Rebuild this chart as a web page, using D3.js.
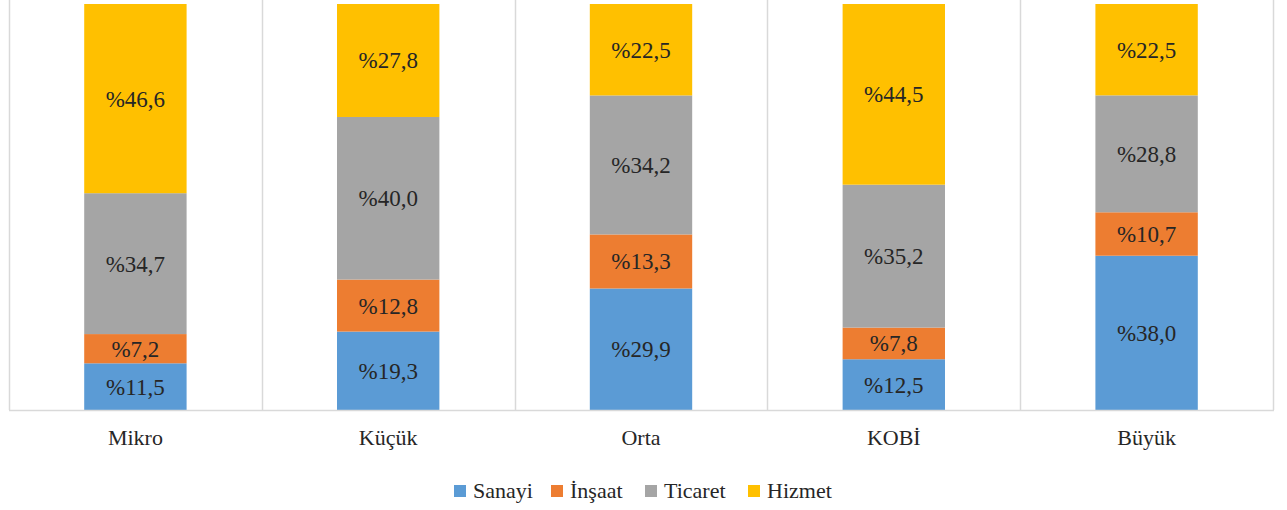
<!DOCTYPE html>
<html>
<head>
<meta charset="utf-8">
<script src="https://cdn.jsdelivr.net/npm/d3@7"></script>
</head>
<body style="margin:0;background:#fff">
<script>
// Data
const categories = ["Mikro", "Küçük", "Orta", "KOBİ", "Büyük"];
const seriesNames = ["Sanayi", "İnşaat", "Ticaret", "Hizmet"];
const sanayi  = [11.5, 19.3, 29.9, 12.5, 38.0];
const insaat  = [7.2, 12.8, 13.3, 7.8, 10.7];
const ticaret = [34.7, 40.0, 34.2, 35.2, 28.8];
const hizmet  = [46.6, 27.8, 22.5, 44.5, 22.5];
const colors = ["#5B9BD5", "#ED7D31", "#A5A5A5", "#FFC000"];

const seriesValues = [sanayi, insaat, ticaret, hizmet];
const rows = categories.map((c, i) => {
  const r = {cat: c};
  seriesNames.forEach((s, j) => r[s] = seriesValues[j][i]);
  return r;
});

const width = 1287, height = 510;
const margin = {top: 4, right: 14, bottom: 100, left: 9};

const svg = d3.select("body").append("svg")
  .attr("width", width)
  .attr("height", height)
  .attr("font-family", "Liberation Serif, Times New Roman, serif")
  .style("display", "block");

const x = d3.scaleBand()
  .domain(categories)
  .range([margin.left, width - margin.right])
  .paddingInner(0)
  .paddingOuter(0);

const y = d3.scaleLinear()
  .domain([0, 1])
  .range([height - margin.bottom, margin.top]);

const stack = d3.stack()
  .keys(seriesNames)
  .offset(d3.stackOffsetExpand);
const stacked = stack(rows);

// vertical gridlines at category boundaries
const bounds = categories.map(c => x(c)).concat([x.range()[1]]);
svg.append("g")
  .selectAll("line")
  .data(bounds)
  .join("line")
  .attr("x1", d => Math.round(d) + 0.5)
  .attr("x2", d => Math.round(d) + 0.5)
  .attr("y1", 0)
  .attr("y2", y(0))
  .attr("stroke", "#d9d9d9")
  .attr("stroke-width", 1.5);

const barW = x.bandwidth() * 0.405;

svg.append("g")
  .selectAll("g")
  .data(stacked)
  .join("g")
  .attr("fill", (d, i) => colors[i])
  .selectAll("rect")
  .data(d => d)
  .join("rect")
  .attr("x", d => x(d.data.cat) + x.bandwidth() / 2 - barW / 2)
  .attr("y", d => y(d[1]))
  .attr("width", barW)
  .attr("height", d => y(d[0]) - y(d[1]));

// data labels
const labels = stacked.flatMap(s => s.map(p => ({p, key: s.key})));
svg.selectAll("text.lbl")
  .data(labels)
  .join("text")
  .attr("class", "lbl")
  .attr("x", d => x(d.p.data.cat) + x.bandwidth() / 2)
  .attr("y", d => (y(d.p[0]) + y(d.p[1])) / 2 + 8)
  .attr("text-anchor", "middle")
  .attr("fill", "#262626")
  .attr("font-size", 23)
  .text(d => "%" + d3.format(".1f")(d.p.data[d.key]).replace(".", ","));

// baseline
svg.append("line")
  .attr("x1", margin.left)
  .attr("x2", x.range()[1] + 1)
  .attr("y1", y(0) + 0.5)
  .attr("y2", y(0) + 0.5)
  .attr("stroke", "#d9d9d9")
  .attr("stroke-width", 1.5);

// category axis labels
svg.selectAll("text.cat")
  .data(categories)
  .join("text")
  .attr("class", "cat")
  .attr("x", d => x(d) + x.bandwidth() / 2)
  .attr("y", 445)
  .attr("text-anchor", "middle")
  .attr("fill", "#262626")
  .attr("font-size", 22)
  .text(d => d);

// legend
const legendX = [454, 551, 645, 748];
svg.selectAll("rect.key")
  .data(seriesNames)
  .join("rect")
  .attr("class", "key")
  .attr("x", (d, i) => legendX[i])
  .attr("y", 485)
  .attr("width", 12)
  .attr("height", 12)
  .attr("fill", (d, i) => colors[i]);
svg.selectAll("text.key")
  .data(seriesNames)
  .join("text")
  .attr("class", "key")
  .attr("x", (d, i) => legendX[i] + 19)
  .attr("y", 498)
  .attr("fill", "#262626")
  .attr("font-size", 22)
  .text(d => d);
</script>
</body>
</html>
